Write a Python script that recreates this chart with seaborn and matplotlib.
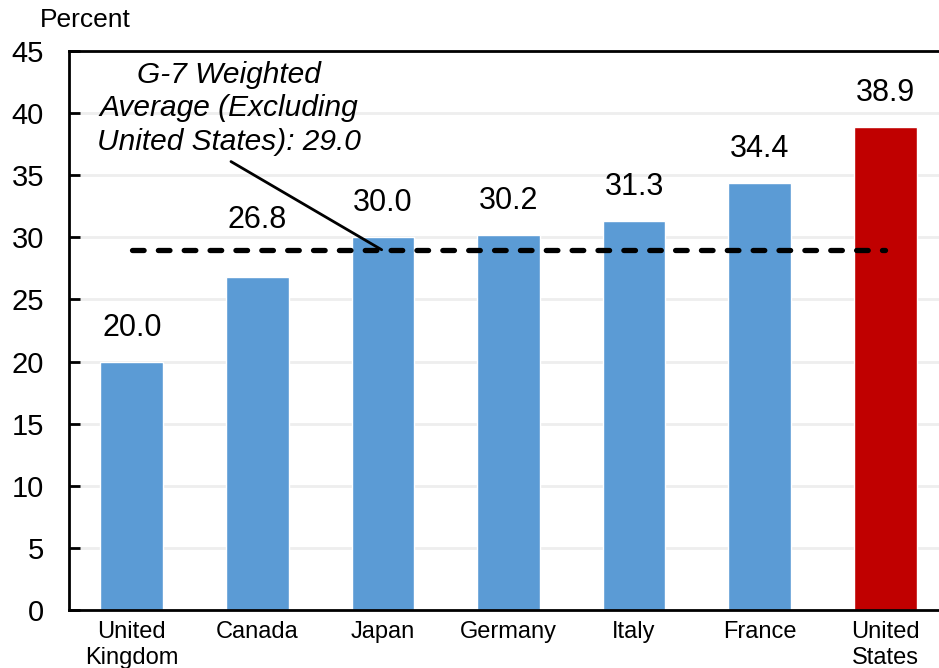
import numpy as np
import pandas as pd
import matplotlib
matplotlib.use("Agg")
import matplotlib.pyplot as plt
import seaborn as sns

countries = ["United\nKingdom", "Canada", "Japan", "Germany", "Italy", "France", "United\nStates"]
values = [20.0, 26.8, 30.0, 30.2, 31.3, 34.4, 38.9]
groups = ["other", "other", "other", "other", "other", "other", "us"]
g7_avg = 29.0
y_ticks = [0, 5, 10, 15, 20, 25, 30, 35, 40, 45]

df = pd.DataFrame({"country": countries, "value": values, "group": groups})

sns.set_style("white")
plt.rcParams["font.family"] = ["Liberation Sans", "DejaVu Sans"]
plt.rcParams["text.color"] = "black"
plt.rcParams["xtick.color"] = "black"
plt.rcParams["ytick.color"] = "black"

fig = plt.figure(figsize=(9.39, 6.68), dpi=100)
ax = fig.add_axes([69 / 939, 58 / 668, 879 / 939, 559 / 668])

sns.barplot(data=df, x="country", y="value", hue="group",
            palette={"other": "#5B9BD5", "us": "#C00000"},
            width=0.5, dodge=False, legend=False, saturation=1, ax=ax)

# value labels (Canada's is lifted above the average line)
bars = sorted([p for p in ax.patches if p.get_height() > 0], key=lambda p: p.get_x())
for i, p in enumerate(bars):
    off = 41 if i == 1 else 24.5
    ax.annotate(f"{values[i]:.1f}", xy=(p.get_x() + p.get_width() / 2, values[i]),
                xytext=(0, off), textcoords="offset points",
                ha="center", va="center", fontsize=22)

# G-7 average line
ax.plot(range(len(countries)), [g7_avg] * len(countries), color="black",
        linestyle=(0, (2.2, 2.7)), linewidth=3.8, dash_capstyle="round", zorder=3)

ax.text(0.77, 40.4, "G-7 Weighted\nAverage (Excluding\nUnited States): 29.0",
        ha="center", va="center", fontsize=21.5, style="italic", linespacing=1.25)
ax.annotate("", xy=(1.99, g7_avg), xytext=(0.79, 36.1),
            arrowprops=dict(arrowstyle="-", color="black", lw=2,
                            shrinkA=0, shrinkB=0))

ax.set_xlim(-0.5, 6.5)
ax.set_ylim(0, 45)
ax.set_yticks(y_ticks)
ax.yaxis.grid(True, color="#eeeeee", linewidth=2)
ax.set_axisbelow(True)
ax.tick_params(axis="y", direction="in", length=8, width=2, labelsize=21, pad=18, left=True)
ax.tick_params(axis="x", length=0, labelsize=17, pad=8)
ax.set_xlabel("")
ax.set_ylabel("")
for s in ax.spines.values():
    s.set_color("black")
    s.set_linewidth(2)

fig.text(40 / 939, 1 - 20 / 668, "Percent", fontsize=19, va="center", ha="left")

fig.savefig("out.png", dpi=100)
